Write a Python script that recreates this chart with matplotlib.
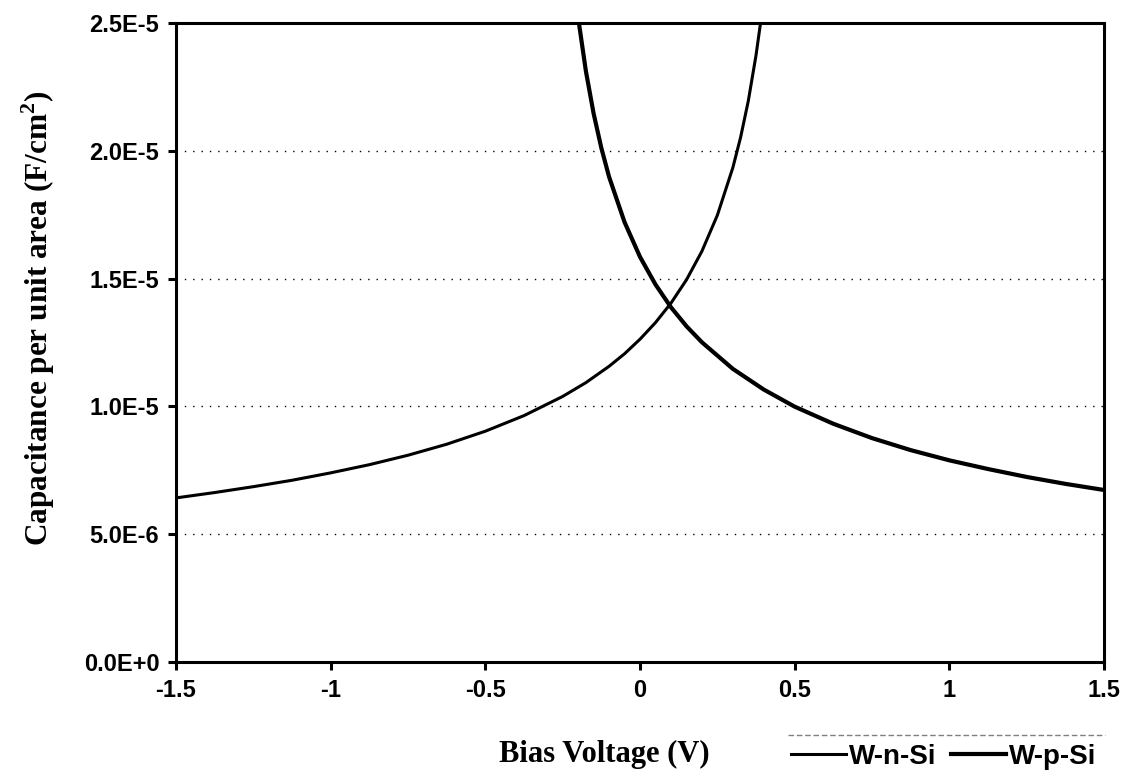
import matplotlib
matplotlib.use('Agg')
import matplotlib.pyplot as plt
from matplotlib.lines import Line2D

plt.rcParams['mathtext.fontset'] = 'custom'
plt.rcParams['mathtext.rm'] = 'Liberation Serif:bold'

# W-n-Si curve (units of 1E-6 F/cm2)
v_n = [-1.5, -1.375, -1.25, -1.125, -1.0, -0.875, -0.75, -0.625, -0.5,
       -0.375, -0.25, -0.175, -0.1, -0.05, 0.0, 0.05, 0.1, 0.15, 0.2,
       0.25, 0.3, 0.325, 0.35, 0.375, 0.39]
c_n = [6.42, 6.63, 6.86, 7.11, 7.40, 7.72, 8.09, 8.52, 9.03,
       9.64, 10.39, 10.93, 11.57, 12.06, 12.63, 13.28, 14.04, 14.95, 16.07,
       17.48, 19.34, 20.52, 21.95, 23.74, 25.04]

# W-p-Si curve
v_p = [-0.197, -0.175, -0.15, -0.125, -0.1, -0.05, 0.0, 0.05, 0.1, 0.15,
       0.2, 0.3, 0.4, 0.5, 0.625, 0.75, 0.875, 1.0, 1.125, 1.25, 1.375, 1.5]
c_p = [24.96, 23.12, 21.46, 20.11, 18.98, 17.21, 15.85, 14.77, 13.88, 13.14,
       12.51, 11.47, 10.66, 9.99, 9.32, 8.76, 8.29, 7.89, 7.55, 7.24, 6.97, 6.73]

x_ticks = [-1.5, -1, -0.5, 0, 0.5, 1, 1.5]
x_labels = ['-1.5', '-1', '-0.5', '0', '0.5', '1', '1.5']
y_ticks = [0, 5e-6, 1e-5, 1.5e-5, 2e-5, 2.5e-5]
y_labels = ['0.0E+0', '5.0E-6', '1.0E-5', '1.5E-5', '2.0E-5', '2.5E-5']


def main():
    fig = plt.figure(figsize=(11.26, 7.73), dpi=100)
    ax = fig.add_axes([0.1563, 0.1436, 0.8242, 0.8266])

    ax.plot(v_n, [c * 1e-6 for c in c_n], color='black', lw=2.2,
            label='W-n-Si', zorder=3)
    ax.plot(v_p, [c * 1e-6 for c in c_p], color='black', lw=3.0,
            label='W-p-Si', zorder=3)

    ax.set_xlim(-1.5, 1.5)
    ax.set_ylim(0, 2.5e-5)
    ax.set_xticks(x_ticks)
    ax.set_xticklabels(x_labels)
    ax.set_yticks(y_ticks)
    ax.set_yticklabels(y_labels)

    for y in y_ticks[1:-1]:
        ax.axhline(y, color='black', lw=1.0, linestyle=(0, (1, 5)), zorder=1)

    for s in ax.spines.values():
        s.set_linewidth(2.2)
    ax.tick_params(direction='out', length=6, width=2.2, pad=6)
    for lab in ax.get_xticklabels() + ax.get_yticklabels():
        lab.set_fontfamily('Liberation Sans')
        lab.set_fontweight('bold')
        lab.set_fontsize(17)

    ax.set_xlabel('Bias Voltage (V)', fontfamily='Liberation Serif',
                  fontweight='bold', fontsize=22)
    ax.xaxis.set_label_coords(0.462, -0.122)
    ax.set_ylabel('Capacitance per unit area (F/cm$^2$)',
                  fontfamily='Liberation Serif', fontweight='bold',
                  fontsize=22.5)
    ax.yaxis.set_label_coords(-0.128, 0.538)

    # thin dashed rule above the legend
    fig.add_artist(Line2D([0.70, 0.981], [0.049, 0.049],
                          transform=fig.transFigure, color='gray', lw=1,
                          linestyle=(0, (4, 2))))
    ax.legend(loc='center', bbox_to_anchor=(0.838, 0.021),
              bbox_transform=fig.transFigure, ncol=2, frameon=False,
              borderpad=0, handlelength=2.0, handletextpad=0.1,
              columnspacing=0.5,
              prop={'family': 'Liberation Sans', 'weight': 'bold',
                    'size': 20})

    fig.savefig('out.png', dpi=100)


if __name__ == '__main__':
    main()
